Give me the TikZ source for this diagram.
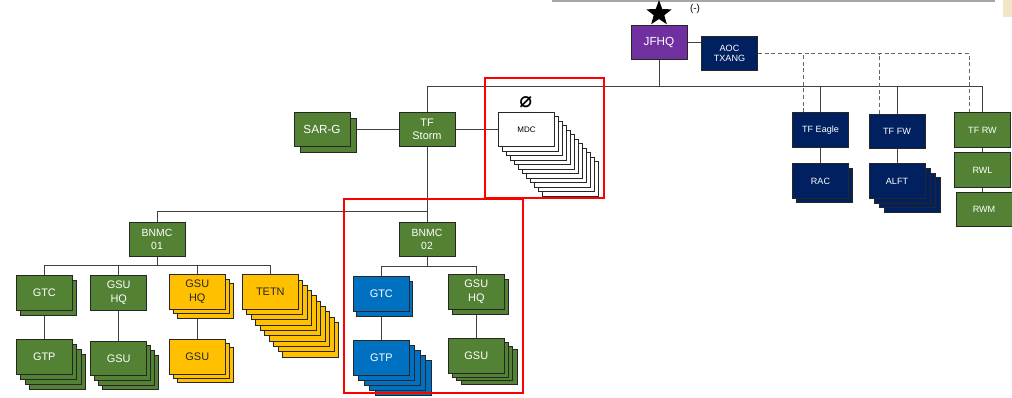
\documentclass[tikz,border=0pt]{standalone}
\usepackage{fontspec}
\setmainfont{Liberation Sans}
\newfontfamily\symfont{DejaVu Sans}
\usetikzlibrary{shapes.geometric,backgrounds}

\definecolor{grn}{HTML}{548235}
\definecolor{navy}{HTML}{002060}
\definecolor{blu}{HTML}{0070C0}
\definecolor{ylw}{HTML}{FFC000}
\definecolor{prp}{HTML}{7030A0}
\definecolor{tan}{HTML}{F3E6C8}

\tikzset{
  unitbox/.style={draw=black!85,line width=0.7pt,minimum width=42pt,minimum height=26pt,
    inner sep=0pt,align=center,text=white,font=\fontsize{8.2}{10.5}\selectfont},
  navytxt/.style={font=\fontsize{6.8}{8}\selectfont},
  link/.style={draw=black!75,line width=0.6pt},
  support/.style={draw=black!60,line width=0.6pt,densely dashed},
  focus/.style={draw=red,line width=1.5pt}
}

% name, position, fill, copies, dx, dy, text
\newcommand{\stackbox}[7]{%
  \foreach \k in {#4,...,1}
    \node[unitbox,fill=#3,shift={(\k*#5,\k*#6)}] at #2 {};
  \node[unitbox,fill=#3] (#1) at #2 {#7};}

\begin{document}
\begin{tikzpicture}[x=0.75pt,y=-0.75pt]
\useasboundingbox (0,0) rectangle (1012,397);
% screenshot edge
\draw[black!35,line width=0.8pt] (552,1) -- (995,1);
\fill[tan] (1003,0) rectangle (1012,17);

% command
\node[unitbox,fill=prp,font=\fontsize{8.8}{10}\selectfont] (jfhq) at (659,42.5) {JFHQ};
\node[star,star points=5,star point ratio=2.4,fill=black,inner sep=0pt,minimum size=20pt] (star) at (659,13.5) {};
\node[font=\fontsize{7.5}{8}\selectfont] (neg) at (695,9) {(-)};
\node[unitbox,fill=navy,font=\fontsize{6.8}{7.8}\selectfont] (aoc) at (729.5,53.5) {AOC\\TXANG};

% air task forces
\node[unitbox,fill=navy,navytxt] (tfeagle) at (820.5,130) {TF Eagle};
\node[unitbox,fill=navy,navytxt] (tffw) at (897,131.5) {TF FW};
\node[unitbox,fill=grn,navytxt] (tfrw) at (982.5,130) {TF RW};
\node[unitbox,fill=grn,navytxt] (rwl) at (982.5,170) {RWL};
\node[unitbox,fill=grn,navytxt] (rwm) at (984,209.5) {RWM};
\stackbox{rac}{(820.5,181)}{navy,navytxt}{1}{3.5}{4.5}{RAC}
\stackbox{alft}{(897,181)}{navy,navytxt}{3}{5}{4.7}{ALFT}

% land task force
\stackbox{sarg}{(322,129.5)}{grn,font=\fontsize{8.8}{10}\selectfont}{1}{6}{6}{SAR-G}
\node[unitbox,fill=grn,font=\fontsize{8.2}{10}\selectfont] (tfstorm) at (427,129.5) {TF\\Storm};
\stackbox{mdc}{(526.5,129.5)}{white,text=black,font=\fontsize{6}{7}\selectfont}{11}{4}{4.5}{MDC}
\node[font=\symfont\bfseries\fontsize{16}{16}\selectfont] (nil) at (525.7,102) {⌀};

% BNMC 01
\node[unitbox,fill=grn,font=\fontsize{7.8}{10}\selectfont] (bnmc01) at (157,239.5) {BNMC\\01};
\stackbox{gtc1}{(44.3,293)}{grn}{1}{4.5}{5}{GTC}
\node[unitbox,fill=grn] (gsuhq1) at (118.7,293) {GSU\\HQ};
\stackbox{gsuhq1y}{(197.3,292)}{ylw,text=black!85}{2}{4}{4.5}{GSU\\HQ}
\stackbox{tetn}{(270.3,292)}{ylw,text=black!85}{9}{4.5}{5.3}{TETN}
\stackbox{gtp1}{(44.3,357)}{grn}{3}{4.4}{5}{GTP}
\stackbox{gsu1}{(118.7,358.5)}{grn}{3}{4}{4.7}{GSU}
\stackbox{gsu1y}{(197.3,356.7)}{ylw,text=black!85}{2}{4}{4}{GSU}

% BNMC 02
\node[unitbox,fill=grn,font=\fontsize{7.8}{10}\selectfont] (bnmc02) at (427,239.5) {BNMC\\02};
\stackbox{gtc2}{(381.3,294)}{blu}{1}{3.5}{5}{GTC}
\stackbox{gsuhq2}{(476.3,292)}{grn}{1}{4}{5}{GSU\\HQ}
\stackbox{gtp2}{(381.3,358)}{blu}{4}{5.5}{5}{GTP}
\stackbox{gsu2}{(476.3,356)}{grn}{3}{4.3}{3.7}{GSU}

% connectors
\begin{scope}[on background layer]
\coordinate (bar) at (0,86);
\coordinate (split) at (0,211.7);
\draw[link] (jfhq.east) -- (jfhq.east -| aoc.west);
\draw[link] (tfstorm.north) |- (bar -| tfrw.north) -- (tfrw.north);
\draw[link] (jfhq.south) -- (jfhq.south |- bar);
\foreach \n in {tfeagle,tffw}
  \draw[link] (\n.north |- bar) -- (\n.north);
\draw[support] (aoc.east) -| ([xshift=-10pt]tfrw.north);
\foreach \n in {tfeagle,tffw}
  \draw[support] ([xshift=-13pt]\n.north) -- ([xshift=-13pt]\n.north |- aoc.east);
\draw[link] (tfeagle) -- (rac);
\draw[link] (tffw) -- (alft);
\draw[link] (tfrw) -- (rwl);
\draw[link] (rwl.south) -- (rwl.south |- rwm.north);
\draw[link] (sarg.east) -- (tfstorm.west);
\draw[link] (tfstorm.east) -- (mdc.west);
\draw[link] (tfstorm.south) -- (bnmc02.north);
\draw[link] (bnmc01.north) |- (split -| tfstorm.south);
\foreach \c in {gtc1,gsuhq1,gsuhq1y,tetn}
  \draw[link] (bnmc01.south) -- ++(0,8.5) -| (\c.north);
\foreach \c in {gtc2,gsuhq2}
  \draw[link] (bnmc02.south) -- ++(0,9.3) -| (\c.north);
\foreach \a/\b in {gtc1/gtp1,gsuhq1/gsu1,gsuhq1y/gsu1y,gtc2/gtp2,gsuhq2/gsu2}
  \draw[link] (\a) -- (\b);
\end{scope}

% highlighted areas
\draw[focus] (485,78.3) rectangle (604,198.3);
\draw[focus] (344.3,199.3) rectangle (522.7,393.3);
\end{tikzpicture}
\end{document}
